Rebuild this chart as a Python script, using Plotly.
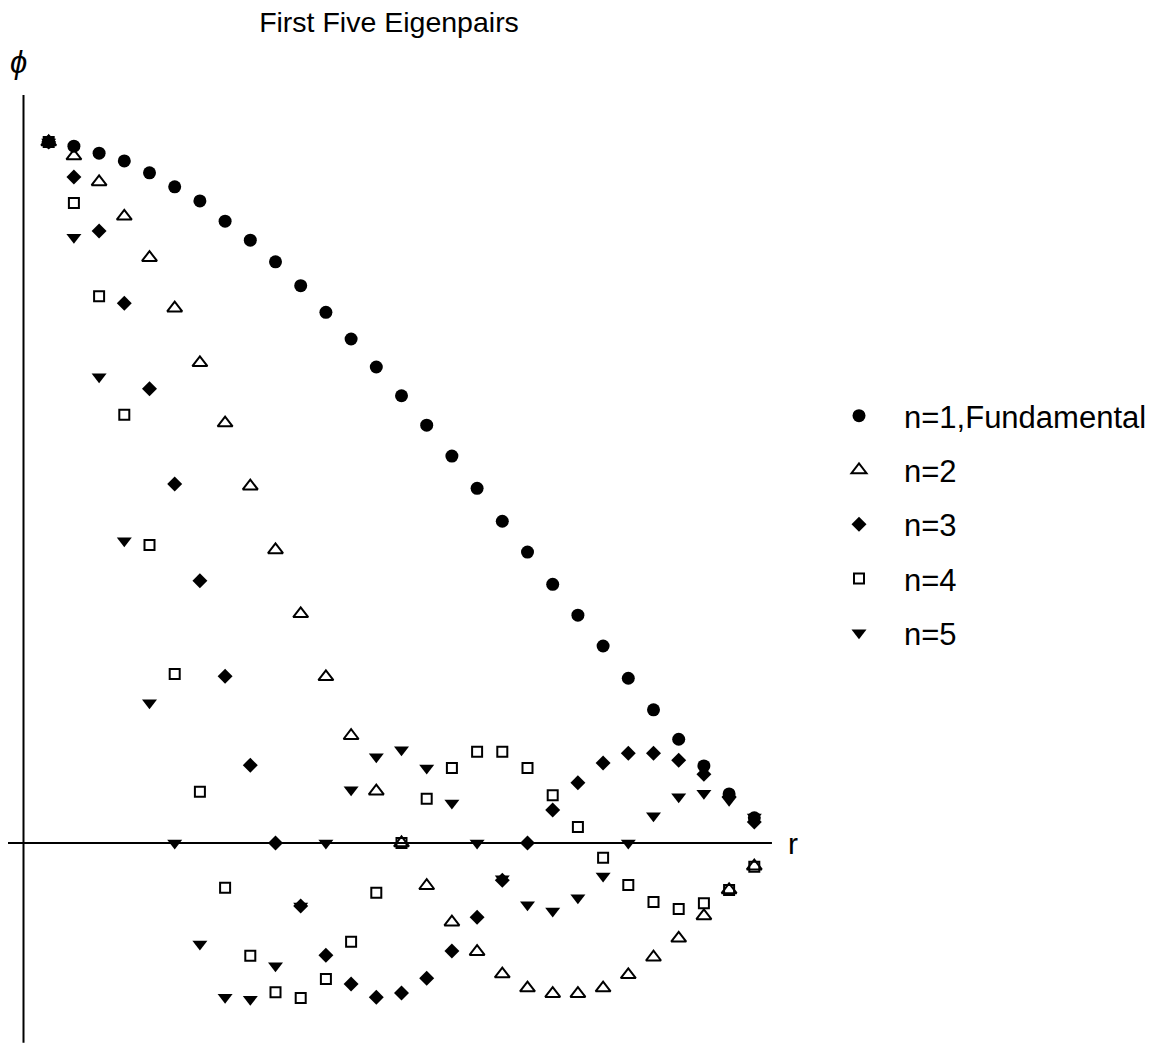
import plotly.graph_objects as go

# Radial sample positions
r = [1, 2, 3, 4, 5, 6, 7, 8, 9, 10, 11, 12, 13, 14, 15,
     16, 17, 18, 19, 20, 21, 22, 23, 24, 25, 26, 27, 28, 29]

# Eigenfunction values phi_n(r), normalised to 1 at the centre
phi_1 = [1.000, 0.994, 0.984, 0.973, 0.956, 0.936, 0.916, 0.887, 0.860, 0.829,
         0.795, 0.757, 0.719, 0.679, 0.638, 0.596, 0.552, 0.506, 0.459, 0.415,
         0.369, 0.325, 0.281, 0.235, 0.190, 0.148, 0.110, 0.070, 0.036]
phi_2 = [1.000, 0.980, 0.943, 0.894, 0.835, 0.763, 0.685, 0.599, 0.509, 0.418,
         0.327, 0.237, 0.153, 0.074, 0.000, -0.061, -0.113, -0.155, -0.187, -0.207,
         -0.215, -0.215, -0.207, -0.188, -0.163, -0.136, -0.104, -0.067, -0.033]
phi_3 = [1.000, 0.950, 0.873, 0.770, 0.648, 0.512, 0.374, 0.238, 0.111, 0.000,
         -0.090, -0.160, -0.201, -0.220, -0.214, -0.193, -0.154, -0.106, -0.053, 0.000,
         0.047, 0.086, 0.114, 0.128, 0.128, 0.118, 0.098, 0.066, 0.030]
phi_4 = [1.000, 0.913, 0.780, 0.611, 0.425, 0.241, 0.073, -0.064, -0.161, -0.213,
         -0.221, -0.194, -0.141, -0.071, 0.000, 0.063, 0.107, 0.130, 0.130, 0.107,
         0.068, 0.023, -0.021, -0.060, -0.084, -0.094, -0.086, -0.067, -0.034]
phi_5 = [1.000, 0.864, 0.665, 0.431, 0.200, 0.000, -0.144, -0.220, -0.223, -0.175,
         -0.090, 0.000, 0.076, 0.123, 0.133, 0.107, 0.057, 0.000, -0.051, -0.088,
         -0.097, -0.078, -0.047, 0.000, 0.039, 0.066, 0.071, 0.061, 0.037]

series_names = ["n=1,Fundamental", "n=2", "n=3", "n=4", "n=5"]
series_values = [phi_1, phi_2, phi_3, phi_4, phi_5]

marker_styles = [
    dict(symbol="circle", size=13, color="black"),
    dict(symbol="triangle-up-open", size=13, color="black", line=dict(width=2, color="black")),
    dict(symbol="diamond", size=11.5, color="black"),
    dict(symbol="square-open", size=10, color="black", line=dict(width=2, color="black")),
    dict(symbol="triangle-down", size=13, color="black"),
]

FONT = "Liberation Sans, Arial, Helvetica, sans-serif"

fig = go.Figure()
for i, (name, vals, mk) in enumerate(zip(series_names, series_values, marker_styles)):
    fig.add_trace(go.Scatter(
        x=r, y=vals, mode="markers", name=name,
        legendgroup=f"g{i}", marker=mk,
    ))

# Axes drawn as lines crossing at the origin
fig.add_shape(type="line", x0=0, x1=0, y0=-0.285, y1=1.067,
              line=dict(color="black", width=2), layer="below")
fig.add_shape(type="line", x0=-0.615, x1=29.70, y0=0, y1=0,
              line=dict(color="black", width=2), layer="below")

fig.add_annotation(x=30.54, y=0.0, text="r", showarrow=False,
                   font=dict(family=FONT, size=30, color="black"),
                   xanchor="center", yanchor="middle")
fig.add_annotation(x=-0.20, y=1.114, text="<i>ϕ</i>", showarrow=False,
                   font=dict(family=FONT, size=31, color="black"),
                   xanchor="center", yanchor="middle")

fig.update_layout(
    width=1158, height=1046, autosize=False,
    margin=dict(l=0, r=0, t=0, b=0, pad=0),
    paper_bgcolor="white", plot_bgcolor="white",
    title=dict(text="First Five Eigenpairs", x=389 / 1158, xanchor="center",
               y=1 - 22 / 1046, yanchor="middle",
               font=dict(family=FONT, size=28.5, color="black")),
    xaxis=dict(range=[-23.5 / 25.2, (1158 - 23.5) / 25.2], showgrid=False,
               zeroline=False, showticklabels=False, ticks="", showline=False),
    yaxis=dict(range=[-203 / 701, 843 / 701], showgrid=False,
               zeroline=False, showticklabels=False, ticks="", showline=False),
    showlegend=True,
    legend=dict(x=814 / 1158, xanchor="left", y=1 - 389 / 1046, yanchor="top",
                font=dict(family=FONT, size=31, color="black"),
                traceorder="grouped", tracegroupgap=11, itemwidth=80,
                bgcolor="rgba(0,0,0,0)", borderwidth=0),
)

fig.write_html("out.html")
